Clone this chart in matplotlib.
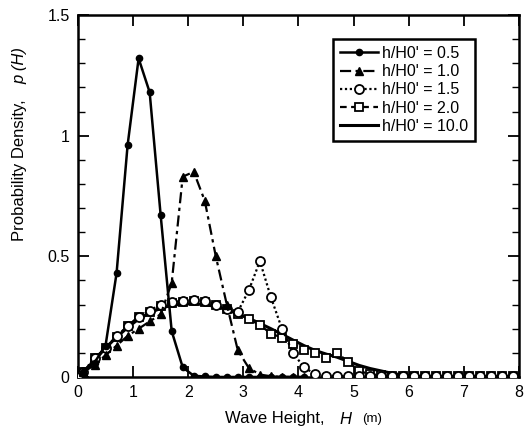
import numpy as np
import matplotlib
matplotlib.use("Agg")
import matplotlib.pyplot as plt
from matplotlib.ticker import MultipleLocator

plt.rcParams['font.family'] = ['Liberation Sans', 'DejaVu Sans']

# ---- data ----
H_05 = [0.1, 0.3, 0.5, 0.7, 0.9, 1.1, 1.3, 1.5, 1.7, 1.9, 2.1, 2.3, 2.5, 2.7, 2.9, 3.1, 3.3, 3.5, 3.7, 3.9, 4.1]
p_05 = [0.02, 0.06, 0.13, 0.43, 0.96, 1.32, 1.18, 0.67, 0.19, 0.04, 0.005, 0.002, 0, 0, 0, 0, 0, 0, 0, 0, 0]

H_10 = [0.1, 0.3, 0.5, 0.7, 0.9, 1.1, 1.3, 1.5, 1.7, 1.9, 2.1, 2.3, 2.5, 2.7, 2.9, 3.1, 3.3, 3.5, 3.7, 3.9, 4.1]
p_10 = [0.02, 0.05, 0.09, 0.13, 0.17, 0.20, 0.23, 0.26, 0.39, 0.83, 0.85, 0.73, 0.50, 0.30, 0.11, 0.037, 0.01, 0.003, 0.001, 0, 0]

H_15 = [0.0, 0.1, 0.3, 0.5, 0.7, 0.9, 1.1, 1.3, 1.5, 1.7, 1.9, 2.1, 2.3, 2.5, 2.7, 2.9,
        3.1, 3.3, 3.5, 3.7, 3.9, 4.1, 4.3, 4.5, 4.7, 4.9, 5.1, 5.3, 5.5, 5.7, 5.9,
        6.1, 6.3, 6.5, 6.7, 6.9, 7.1, 7.3, 7.5, 7.7, 7.9]
p_15 = [0.0, 0.022, 0.08, 0.12, 0.17, 0.21, 0.25, 0.275, 0.30, 0.31, 0.315, 0.32, 0.315, 0.30, 0.28, 0.27,
        0.36, 0.48, 0.33, 0.20, 0.10, 0.04, 0.012, 0.006, 0.004, 0.004, 0.004, 0.004, 0.004, 0.004, 0.004,
        0.004, 0.004, 0.004, 0.004, 0.004, 0.004, 0.004, 0.004, 0.004, 0.004]

H_20 = [0.1, 0.3, 0.5, 0.7, 0.9, 1.1, 1.3, 1.5, 1.7, 1.9, 2.1, 2.3, 2.5, 2.7, 2.9,
        3.1, 3.3, 3.5, 3.7, 3.9, 4.1, 4.3, 4.5, 4.7, 4.9, 5.1, 5.3, 5.5, 5.7, 5.9,
        6.1, 6.3, 6.5, 6.7, 6.9, 7.1, 7.3, 7.5, 7.7, 7.9]
p_20 = [0.022, 0.078, 0.12, 0.167, 0.21, 0.25, 0.27, 0.296, 0.306, 0.31, 0.315, 0.31, 0.30, 0.28, 0.26,
        0.24, 0.215, 0.18, 0.163, 0.137, 0.112, 0.10, 0.08, 0.10, 0.063, 0.025, 0.011, 0.008, 0.005, 0.004,
        0.004, 0.003, 0.003, 0.003, 0.003, 0.003, 0.003, 0.003, 0.003, 0.003]

H_100 = [0.0, 0.1, 0.3, 0.5, 0.7, 0.9, 1.1, 1.3, 1.5, 1.7, 1.9, 2.1, 2.3, 2.5, 2.7, 2.9,
         3.1, 3.3, 3.5, 3.7, 3.9, 4.1, 4.3, 4.5, 4.7, 4.9, 5.1, 5.3, 5.5, 5.7, 5.9,
         6.1, 6.3, 6.5, 6.7, 6.9, 7.1, 7.3, 7.5, 7.7, 7.9]
p_100 = [0.0, 0.02, 0.07, 0.12, 0.165, 0.205, 0.24, 0.265, 0.285, 0.297, 0.302, 0.303, 0.30, 0.292, 0.278, 0.262,
         0.243, 0.222, 0.20, 0.177, 0.153, 0.13, 0.11, 0.095, 0.082, 0.065, 0.048, 0.035, 0.025, 0.015, 0.008,
         0.003, 0.001, 0, 0, 0, 0, 0, 0, 0, 0]

labels = ["h/H0' = 0.5", "h/H0' = 1.0", "h/H0' = 1.5", "h/H0' = 2.0", "h/H0' = 10.0"]

x_ticks = [0, 1, 2, 3, 4, 5, 6, 7, 8]
y_ticks = [0, 0.5, 1, 1.5]
y_ticklabels = ["0", "0.5", "1", "1.5"]

# ---- figure ----
fig = plt.figure(figsize=(5.29, 4.30), dpi=100)
ax = fig.add_axes([0.1474, 0.1233, 0.8337, 0.8419])

ax.plot(H_100, p_100, color='black', lw=2.2, ls='-', label=labels[4], zorder=2)
ax.plot(H_20, p_20, color='black', lw=1.6, ls=(0, (3, 2)), marker='s', ms=5.5,
        mfc='white', mec='black', mew=1.3, label=labels[3], zorder=3)
ax.plot(H_15, p_15, color='black', lw=1.6, ls=(0, (1, 1.2)), marker='o', ms=6.5,
        mfc='white', mec='black', mew=1.3, label=labels[2], zorder=4)
ax.plot(H_10, p_10, color='black', lw=1.6, ls=(0, (5, 2, 1.5, 2)), marker='^', ms=5.5,
        mfc='black', mec='black', label=labels[1], zorder=5)
ax.plot(H_05, p_05, color='black', lw=1.8, ls='-', marker='o', ms=4.5,
        mfc='black', mec='black', label=labels[0], zorder=6)

ax.set_xlim(0, 8)
ax.set_ylim(0, 1.5)
ax.set_xticks(x_ticks)
ax.set_xticklabels([str(t) for t in x_ticks])
ax.set_yticks(y_ticks)
ax.set_yticklabels(y_ticklabels)
ax.yaxis.set_minor_locator(MultipleLocator(0.1))

ax.tick_params(axis='both', which='major', direction='in', length=8, width=1.3,
               top=True, right=True, labelsize=11.5)
ax.tick_params(axis='x', which='major', pad=6)
ax.tick_params(axis='y', which='major', pad=6)
ax.tick_params(axis='y', which='minor', direction='in', length=5, width=1.0, left=True, right=True)
for s in ax.spines.values():
    s.set_linewidth(1.8)

# legend ordering
handles, labs = ax.get_legend_handles_labels()
order = [labs.index(l) for l in labels]
leg = ax.legend([handles[i] for i in order], [labs[i] for i in order],
                loc='upper left', bbox_to_anchor=(0.578, 0.934), fontsize=11.5,
                frameon=True, fancybox=False, edgecolor='black', framealpha=1,
                handlelength=2.4, handletextpad=0.2, borderpad=0.45, labelspacing=0.2,
                borderaxespad=0)
leg.get_frame().set_linewidth(1.8)

# axis labels
W, Hh = 529.0, 430.0
fig.text(275 / W, 1 - 419 / Hh, "Wave Height,", ha='center', va='center', fontsize=12)
fig.text(345 / W, 1 - 419 / Hh, "H", ha='center', va='center', fontsize=12, style='italic')
fig.text(372 / W, 1 - 419 / Hh, "(m)", ha='center', va='center', fontsize=9.5)

fig.text(20 / W, 1 - 170 / Hh, "Probability Density,", ha='center', va='center',
         fontsize=12, rotation=90)
fig.text(20 / W, 1 - 66 / Hh, "p (H)", ha='center', va='center', fontsize=12,
         rotation=90, style='italic')

fig.savefig("out.png", dpi=100, facecolor='white')
